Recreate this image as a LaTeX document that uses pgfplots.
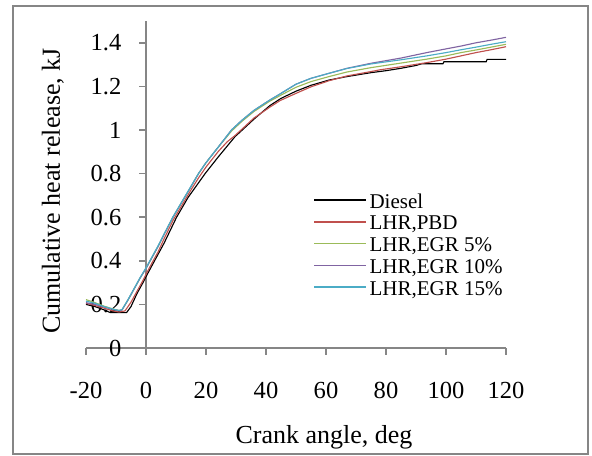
\documentclass[border=0pt]{standalone}
\usepackage{pgfplots}
\pgfplotsset{compat=1.18}
\usepackage{fontspec}
\setmainfont{Liberation Serif}
\definecolor{axgray}{RGB}{134,134,134}
\definecolor{cRed}{HTML}{C0504D}
\definecolor{cGreen}{HTML}{9BBB59}
\definecolor{cPurple}{HTML}{8064A2}
\definecolor{cCyan}{HTML}{4BACC6}
\begin{document}
\begin{tikzpicture}
\begin{axis}[
  scale only axis, width=315pt, height=245.25pt,
  xmin=-20, xmax=120, ymin=0, ymax=1.5,
  axis lines=middle, axis line style={-, axgray, line width=1.3pt},
  hide obscured x ticks=false, hide obscured y ticks=false,
  xtick={-20,0,20,40,60,80,100,120},
  ytick={0,0.2,0.4,0.6,0.8,1,1.2,1.4},
  tick align=outside, major tick length=5pt,
  tick style={axgray, line width=1.3pt},
  /pgf/number format/assume math mode=true,
  ticklabel style={font=\fontsize{18.4}{20}\selectfont},
  xticklabel style={anchor=base, yshift=-33pt},
  yticklabel style={anchor=east, xshift=-10pt},
  xlabel={Crank angle, deg},
  ylabel={Cumulative heat release, kJ},
  xlabel style={at={(axis description cs:0.5667,-0.2936)}, anchor=base, font=\fontsize{19.5}{21}\selectfont},
  ylabel style={at={(axis description cs:-0.062,0.480)}, anchor=base, rotate=90, font=\fontsize{19.5}{21}\selectfont},
  clip=false,
  legend cell align=left,
  legend style={at={(axis description cs:0.5405,0.4809)}, anchor=north west, draw=none, fill=none, inner sep=0pt,
    font=\fontsize{15.75}{16.9}\selectfont, row sep=0.4pt},
  legend image code/.code={\draw[#1, line width=1.2pt] (0pt,1.6pt) -- (39pt,1.6pt);},
  every axis plot/.append style={line width=0.85pt},
]
\addplot[black] coordinates {(-20,0.20)(-17,0.19)(-14,0.175)(-12,0.163)(-6.5,0.162)(-5,0.19)(-3,0.25)(-1,0.30)(0,0.327)(3,0.404)(6,0.48)(10.2,0.6)(14,0.69)(19.7,0.8)(24,0.875)(29.7,0.97)(31.3,0.99)(36,1.05)(41.3,1.112)(45,1.145)(50,1.178)(55,1.205)(61,1.229)(67,1.245)(75,1.263)(80,1.272)(85,1.283)(90,1.296)(92,1.304)(99,1.304)(99.3,1.313)(113.4,1.313)(113.7,1.324)(120,1.324)};
\addplot[cRed] coordinates {(-20,0.205)(-17,0.195)(-14,0.183)(-11,0.17)(-9,0.165)(-7,0.17)(-5,0.21)(-3,0.26)(-1,0.31)(0,0.338)(2,0.39)(4,0.44)(6,0.50)(9,0.585)(12,0.655)(15,0.725)(17.5,0.78)(20,0.83)(24,0.90)(27,0.945)(29.7,0.975)(31.3,0.995)(36,1.055)(41.3,1.105)(44.7,1.135)(50,1.168)(55,1.198)(61,1.226)(67,1.248)(75,1.268)(78,1.276)(85,1.29)(93.6,1.309)(100,1.325)(105,1.34)(110,1.355)(115,1.368)(120,1.382)};
\addplot[cGreen] coordinates {(-20,0.222)(-17,0.208)(-14,0.192)(-11,0.179)(-9,0.172)(-8,0.175)(-6,0.22)(-4,0.27)(-2,0.32)(0,0.365)(2,0.415)(4,0.465)(6,0.52)(9,0.60)(12,0.67)(15,0.74)(17.5,0.80)(20,0.85)(24,0.92)(28.5,0.995)(32,1.04)(36,1.085)(41,1.13)(45,1.16)(50,1.196)(55,1.222)(61,1.245)(67,1.266)(75,1.286)(85,1.307)(93.6,1.325)(100,1.34)(105,1.355)(110,1.367)(115,1.38)(120,1.393)};
\addplot[cPurple] coordinates {(-20,0.208)(-17,0.2)(-14,0.188)(-11,0.177)(-9,0.171)(-8,0.174)(-6,0.22)(-4,0.27)(-2,0.32)(0,0.365)(2,0.415)(4,0.465)(6,0.52)(9,0.60)(12,0.67)(15,0.74)(17.5,0.80)(20,0.85)(24,0.92)(28.5,1.00)(32,1.045)(36,1.09)(41,1.135)(45,1.168)(50,1.21)(55,1.237)(61,1.26)(67,1.283)(75,1.306)(85,1.33)(93.6,1.355)(100,1.372)(105,1.385)(110,1.40)(115,1.412)(120,1.425)};
\addplot[cCyan] coordinates {(-20,0.215)(-17,0.205)(-14,0.19)(-11,0.178)(-9,0.172)(-8,0.176)(-6,0.222)(-4,0.272)(-2,0.322)(0,0.368)(2,0.418)(4,0.468)(6,0.522)(9,0.602)(12,0.672)(15,0.742)(17.5,0.80)(20,0.85)(24,0.92)(28.5,1.00)(32,1.045)(36,1.09)(41,1.135)(45,1.168)(50,1.21)(55,1.237)(61,1.26)(67,1.282)(75,1.303)(85,1.322)(93.6,1.34)(100,1.355)(105,1.368)(110,1.38)(115,1.393)(120,1.405)};
\legend{Diesel,{LHR,PBD},{LHR,EGR 5\%},{LHR,EGR 10\%},{LHR,EGR 15\%}}
\draw[axgray, line width=1.5pt] (axis cs:-44.33,1.5688) rectangle (axis cs:147.33,-0.4862);
\path (axis cs:-48.667,1.5963) rectangle (axis cs:148.667,-0.4954);
\end{axis}
\end{tikzpicture}
\end{document}
